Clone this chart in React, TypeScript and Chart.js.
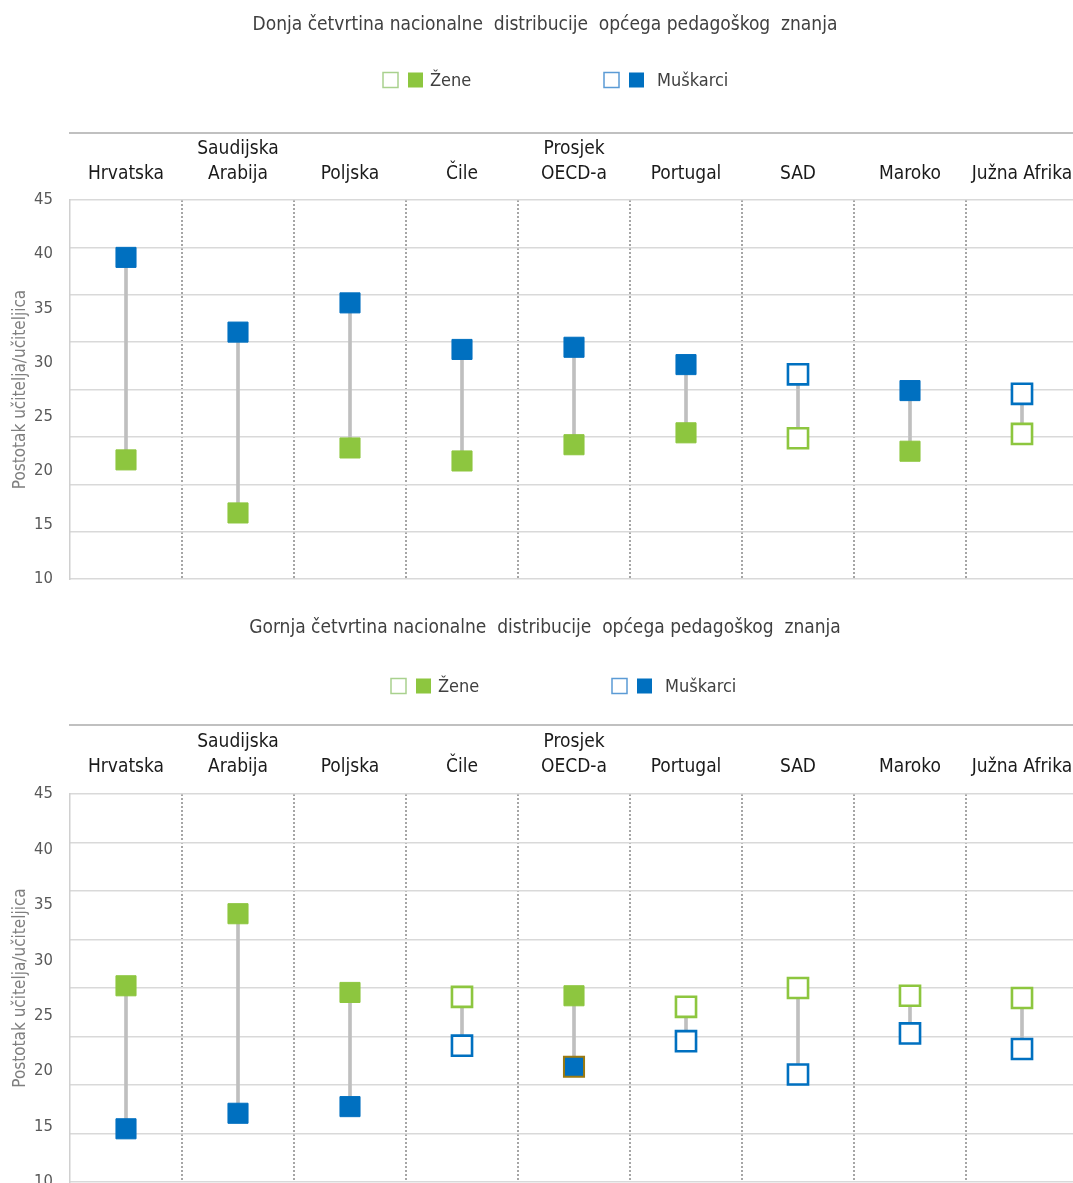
import React, { useEffect, useRef } from "react";
import { Chart, registerables } from "chart.js";

Chart.register(...registerables);

// ---------- data ----------
const categories: string[][] = [
  ["Hrvatska"],
  ["Saudijska", "Arabija"],
  ["Poljska"],
  ["Čile"],
  ["Prosjek", "OECD-a"],
  ["Portugal"],
  ["SAD"],
  ["Maroko"],
  ["Južna Afrika"],
];
const yTickLabels = [10, 15, 20, 25, 30, 35, 40, 45];
const gridLevels = [10, 14.375, 18.75, 23.125, 27.5, 31.875, 36.25, 40.625, 45];
const yAxisTitle = "Postotak učitelja/učiteljica";
const legendLabels = ["Žene", "Muškarci"];

const lowerTitle = "Donja četvrtina nacionalne  distribucije  općega pedagoškog  znanja";
const lowerWomen = [21.0, 16.1, 22.1, 20.9, 22.4, 23.5, 23.0, 21.8, 23.4];
const lowerMen = [39.7, 32.8, 35.5, 31.2, 31.4, 29.8, 28.9, 27.4, 27.1];
const lowerWomenSignificant = [true, true, true, true, true, true, false, true, false];
const lowerMenSignificant = [true, true, true, true, true, true, false, true, false];

const upperTitle = "Gornja četvrtina nacionalne  distribucije  općega pedagoškog  znanja";
const upperWomen = [27.7, 34.2, 27.1, 26.7, 26.8, 25.8, 27.5, 26.8, 26.6];
const upperMen = [14.8, 16.2, 16.8, 22.3, 20.4, 22.7, 19.7, 23.4, 22.0];
const upperWomenSignificant = [true, true, true, false, true, false, false, false, false];
const upperMenSignificant = [true, true, true, false, true, false, false, false, false];

// ---------- style ----------
const GREEN = "#8DC63F";
const BLUE = "#0070C0";
const GOLD = "#9C7A10";
const LINK = "#BFBFBF";
const NARROW = '"Liberation Sans Narrow", "Arial Narrow", "DejaVu Sans Condensed", "Liberation Sans", Arial, sans-serif';
const X_MAX = -0.5 + 1003 / 112;

type PanelProps = {
  top: number;
  height: number;
  title: string;
  women: number[];
  men: number[];
  womenSig: boolean[];
  menSig: boolean[];
  titleY: number;
  legendY: number;
  legendShift: number;
  ruleY: number;
  plotTop: number;
  plotBottom: number;
  labelPad: number;
  goldIndex?: number;
};

const decorPlugin = {
  id: "decor",
  afterDraw(chart: any, _args: any, opts: any) {
    const ctx = chart.ctx as CanvasRenderingContext2D;
    ctx.save();
    // rule above the category labels
    ctx.strokeStyle = "#C0C0C0";
    ctx.lineWidth = 2;
    ctx.beginPath();
    ctx.moveTo(chart.chartArea.left - 1, opts.ruleY);
    ctx.lineTo(chart.width, opts.ruleY);
    ctx.stroke();
    // title
    ctx.font = `19px ${NARROW}`;
    ctx.fillStyle = "#404040";
    ctx.textAlign = "center";
    ctx.textBaseline = "middle";
    ctx.fillText(opts.title, 545, opts.titleY);
    // legend
    const s = opts.legendShift;
    const y = opts.legendY;
    const box = 15;
    const items = [
      { x: 383 + s, color: GREEN, light: "#A9D18E", label: legendLabels[0], tx: 430 + s },
      { x: 604 + s, color: BLUE, light: "#5B9BD5", label: legendLabels[1], tx: 657 + s },
    ];
    ctx.font = `18px ${NARROW}`;
    ctx.textAlign = "left";
    for (const it of items) {
      ctx.strokeStyle = it.light;
      ctx.lineWidth = 1.5;
      ctx.strokeRect(it.x, y - box / 2, box, box);
      ctx.fillStyle = it.color;
      ctx.fillRect(it.x + 25, y - box / 2, box, box);
      ctx.fillStyle = "#404040";
      ctx.fillText(it.label, it.tx, y + 1);
    }
    ctx.restore();
  },
};

function Panel(p: PanelProps) {
  const ref = useRef<HTMLCanvasElement | null>(null);
  useEffect(() => {
    if (!ref.current) return;
    const pts = (arr: number[]) => arr.map((v, i) => ({ x: i, y: v }));
    const markerDataset = (label: string, arr: number[], sig: boolean[], color: string, gold?: number) => ({
      type: "line" as const,
      label,
      data: pts(arr),
      showLine: false,
      pointStyle: "rect",
      pointRadius: 14.2,
      pointHoverRadius: 14.2,
      pointBackgroundColor: sig.map((s) => (s ? color : "#FFFFFF")),
      pointBorderColor: sig.map((_, i) => (gold === i ? GOLD : color)),
      pointBorderWidth: sig.map((s, i) => (gold === i ? 2 : s ? 1 : 2.6)),
      order: 1,
      xAxisID: "x",
      yAxisID: "y",
    });
    const zeroPad = (s: any) => {
      s.paddingLeft = 0;
      s.paddingRight = 0;
      s.paddingTop = 0;
      s.paddingBottom = 0;
    };
    const chart = new Chart(ref.current, {
      type: "bar",
      data: {
        datasets: [
          markerDataset(legendLabels[0], p.women, p.womenSig, GREEN),
          markerDataset(legendLabels[1], p.men, p.menSig, BLUE, p.goldIndex),
          {
            type: "bar" as const,
            label: "range",
            data: p.women.map((v, i) => ({ x: i, y: [Math.min(v, p.men[i]), Math.max(v, p.men[i])] })) as any,
            backgroundColor: LINK,
            borderWidth: 0,
            barThickness: 3,
            order: 3,
            xAxisID: "x",
            yAxisID: "y",
          },
        ],
      } as any,
      options: {
        animation: false,
        responsive: false,
        maintainAspectRatio: false,
        events: [],
        layout: {
          autoPadding: false,
          padding: { top: p.plotTop - 67, bottom: p.height - p.plotBottom, left: 0, right: 0 },
        },
        plugins: {
          legend: { display: false },
          title: { display: false },
          tooltip: { enabled: false },
          decor: { title: p.title, titleY: p.titleY, legendY: p.legendY, legendShift: p.legendShift, ruleY: p.ruleY },
        } as any,
        scales: {
          x: {
            type: "linear",
            position: "bottom",
            offset: false,
            min: -0.5,
            max: X_MAX,
            afterBuildTicks: (s: any) => {
              s.ticks = categories.slice(1).map((_, i) => ({ value: i + 0.5 }));
            },
            ticks: { display: false },
            grid: { color: "#A6A6A6", lineWidth: 2, drawTicks: false, offset: false },
            border: { display: false, dash: [2, 2] },
            afterFit: (s: any) => {
              s.height = 0;
              zeroPad(s);
            },
          },
          xTop: {
            type: "linear",
            position: "top",
            offset: false,
            min: -0.5,
            max: X_MAX,
            afterBuildTicks: (s: any) => {
              s.ticks = categories.map((_, i) => ({ value: i }));
            },
            ticks: {
              autoSkip: false,
              maxRotation: 0,
              minRotation: 0,
              padding: p.labelPad,
              color: "#1A1A1A",
              font: { family: NARROW, size: 19, lineHeight: 1.3 },
              callback: (v: any) => categories[Math.round(Number(v))],
            },
            grid: { display: false, drawTicks: false, offset: false },
            border: { display: false },
            afterFit: (s: any) => {
              s.height = 67;
              zeroPad(s);
            },
          },
          y: {
            type: "linear",
            position: "left",
            min: 10,
            max: 45,
            afterBuildTicks: (s: any) => {
              s.ticks = yTickLabels.map((v) => ({ value: v }));
            },
            ticks: { padding: 17, color: "#595959", font: { family: NARROW, size: 16.5 } },
            grid: { display: false, drawTicks: false },
            border: { display: true, color: "#D0D0D0", width: 1.5 },
            title: {
              display: true,
              text: yAxisTitle,
              color: "#7F7F7F",
              font: { family: NARROW, size: 17 },
              padding: { top: 10, bottom: 0 },
            },
            afterFit: (s: any) => {
              s.width = 70;
              zeroPad(s);
            },
          },
          y2: {
            type: "linear",
            position: "left",
            min: 10,
            max: 45,
            afterBuildTicks: (s: any) => {
              s.ticks = gridLevels.map((v) => ({ value: v }));
            },
            ticks: { display: false },
            grid: { color: "#D9D9D9", lineWidth: 1.5, drawTicks: false },
            border: { display: false },
            afterFit: (s: any) => {
              s.width = 0;
              zeroPad(s);
            },
          },
        },
      } as any,
      plugins: [decorPlugin],
    });
    return () => chart.destroy();
  }, []);
  return (
    <canvas
      ref={ref}
      width={1073}
      height={p.height}
      style={{ position: "absolute", left: 0, top: p.top, width: 1073, height: p.height, display: "block" }}
    />
  );
}

export default function App() {
  return (
    <div style={{ position: "fixed", left: 0, top: 0, width: 1073, height: 1183, overflow: "hidden", background: "#fff" }}>
      <Panel
        top={0}
        height={600}
        title={lowerTitle}
        women={lowerWomen}
        men={lowerMen}
        womenSig={lowerWomenSignificant}
        menSig={lowerMenSignificant}
        titleY={25}
        legendY={80}
        legendShift={0}
        ruleY={133}
        plotTop={200}
        plotBottom={579}
        labelPad={14}
      />
      <Panel
        top={600}
        height={600}
        title={upperTitle}
        women={upperWomen}
        men={upperMen}
        womenSig={upperWomenSignificant}
        menSig={upperMenSignificant}
        titleY={28}
        legendY={86}
        legendShift={8}
        ruleY={125}
        plotTop={194}
        plotBottom={582}
        labelPad={15}
        goldIndex={4}
      />
    </div>
  );
}
